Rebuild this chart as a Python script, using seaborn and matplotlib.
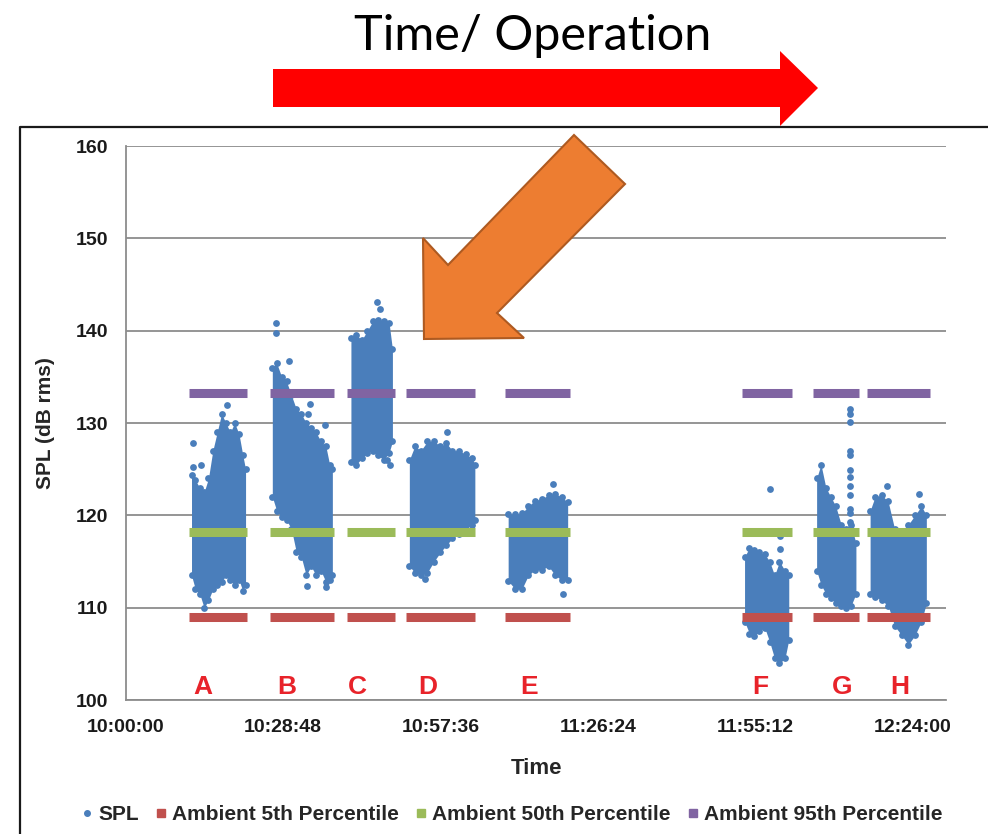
import pandas as pd
import matplotlib.pyplot as plt
import seaborn as sns
from matplotlib.patches import Polygon
from matplotlib.lines import Line2D

# x axis: minutes after 10:00:00
tick_minutes = [0, 28.8, 57.6, 86.4, 115.2, 144.0]
tick_labels = ['10:00:00', '10:28:48', '10:57:36', '11:26:24', '11:55:12', '12:24:00']

# operations and the time span of each ambient reference bar
ops = ['A', 'B', 'C', 'D', 'E', 'F', 'G', 'H']
op_start = [11.6, 26.3, 40.5, 51.2, 69.4, 112.9, 125.9, 135.8]
op_end = [22.2, 38.1, 49.3, 64.0, 81.3, 122.0, 134.3, 147.3]
label_minute = [14.1, 29.5, 42.3, 55.2, 73.8, 116.2, 131.1, 141.8]

ambient_5 = 109.0
ambient_50 = 118.2
ambient_95 = 133.2

# SPL point clouds, read as bottom / top of the cloud at sample times
A_min = [12.0, 12.7, 13.5, 14.3, 15.1, 15.9, 16.7, 17.5, 18.3, 19.1, 19.9, 20.7, 21.4, 21.9]
A_low = [113.5, 112.0, 111.5, 110.0, 110.8, 112.0, 112.5, 112.8, 113.5, 113.0, 112.5, 113.0, 111.8, 112.5]
A_high = [124.4, 123.8, 123.0, 122.5, 124.0, 127.0, 129.0, 131.0, 130.0, 129.0, 130.0, 128.8, 126.5, 125.0]

B_min = [26.8, 27.6, 28.5, 29.4, 30.3, 31.2, 32.1, 33.0, 33.9, 34.8, 35.7, 36.6, 37.3, 37.8]
B_low = [122.0, 120.5, 119.8, 119.5, 118.5, 116.0, 115.5, 113.5, 114.5, 113.5, 114.0, 112.8, 113.0, 113.5]
B_high = [136.0, 136.5, 135.0, 134.5, 133.0, 131.5, 131.0, 130.0, 129.5, 129.0, 128.0, 127.5, 125.5, 125.0]

C_min = [41.2, 42.2, 43.2, 44.2, 45.2, 46.2, 47.2, 48.2, 48.8]
C_low = [125.8, 125.5, 126.2, 126.8, 127.0, 126.5, 126.0, 126.8, 128.0]
C_high = [139.2, 139.5, 139.0, 140.0, 141.0, 141.2, 141.0, 140.8, 138.0]

D_min = [51.9, 52.9, 54.0, 55.2, 56.4, 57.6, 58.7, 59.8, 61.0, 62.2, 63.4, 63.9]
D_low = [114.5, 113.8, 113.5, 113.8, 115.0, 116.0, 116.8, 117.5, 118.0, 118.5, 119.0, 119.5]
D_high = [126.0, 127.5, 127.0, 128.0, 128.0, 127.5, 127.8, 127.0, 127.0, 126.6, 126.2, 125.5]

E_min = [70.0, 71.3, 72.5, 73.7, 74.9, 76.2, 77.4, 78.6, 79.8, 80.9]
E_low = [112.9, 112.0, 112.0, 113.5, 114.1, 114.1, 114.5, 113.5, 113.0, 113.0]
E_high = [120.1, 120.1, 120.2, 121.0, 121.6, 121.8, 122.2, 122.3, 122.0, 121.4]

F_min = [113.3, 114.2, 115.1, 116.0, 117.0, 117.9, 118.8, 119.7, 120.7, 121.4]
F_low = [108.5, 107.2, 106.9, 107.5, 107.8, 106.3, 104.5, 104.0, 104.5, 106.5]
F_high = [115.5, 116.5, 116.2, 116.0, 115.8, 115.0, 113.5, 115.0, 114.0, 113.5]

G_min = [126.5, 127.3, 128.2, 129.1, 130.0, 131.0, 131.9, 132.8, 133.7]
G_low = [114.0, 112.5, 111.5, 111.0, 110.5, 110.2, 110.0, 110.2, 111.5]
G_high = [124.0, 125.5, 123.0, 122.0, 121.0, 119.0, 118.5, 119.0, 117.0]

H_min = [136.3, 137.2, 138.4, 139.6, 140.8, 142.1, 143.3, 144.5, 145.7, 146.6]
H_low = [111.5, 111.2, 110.8, 110.2, 108.0, 107.0, 106.0, 107.0, 108.5, 110.5]
H_high = [120.5, 122.0, 122.2, 121.5, 118.5, 118.0, 119.0, 120.0, 121.0, 120.0]

# single SPL readings standing apart from the clouds
out_min = [12.3, 12.3, 13.8, 18.5, 27.5, 27.5, 29.8, 33.7, 33.4, 36.5, 33.1, 36.7,
           45.9, 46.5, 47.8, 48.4, 58.8, 54.8, 78.3, 80.1, 118.0, 119.8, 119.8,
           132.6, 132.6, 132.6, 132.6, 132.6, 132.6, 132.6, 132.6, 132.6, 132.6, 132.6, 132.6,
           139.4, 145.2]
out_spl = [127.8, 125.2, 125.5, 131.9, 140.8, 139.8, 136.7, 132.1, 131.0, 129.8, 112.4, 112.2,
           143.1, 142.4, 126.0, 125.5, 129.0, 113.1, 123.4, 111.5, 122.8, 117.8, 116.4,
           131.5, 131.0, 130.1, 127.0, 126.5, 124.9, 124.1, 123.2, 122.2, 120.7, 120.2, 119.3,
           123.2, 122.3]

clouds = [(A_min, A_low, A_high), (B_min, B_low, B_high), (C_min, C_low, C_high),
          (D_min, D_low, D_high), (E_min, E_low, E_high), (F_min, F_low, F_high),
          (G_min, G_low, G_high), (H_min, H_low, H_high)]

blue = '#4a7ebb'
red = '#c0504d'
green = '#9bbb59'
purple = '#8064a2'
grid_gray = '#8c8c8c'

W, H = 988, 834

def px(x, y):
    return (x / W, 1 - y / H)

sns.set_style("white")
plt.rcParams['font.family'] = ['Liberation Sans', 'DejaVu Sans']

fig = plt.figure(figsize=(W / 100, H / 100), dpi=100)
ax = fig.add_axes([126 / W, 1 - 700 / H, 820 / W, 554 / H])

# SPL clouds: dense core as area, edges and stray readings as dots
rows = []
for t, lo, hi in clouds:
    ax.fill_between(t, lo, hi, color=blue, lw=0, zorder=2)
    rows += [(m, v) for m, v in zip(t, lo)]
    rows += [(m, v) for m, v in zip(t, hi)]
rows += list(zip(out_min, out_spl))
spl = pd.DataFrame(rows, columns=['minute', 'spl'])
sns.scatterplot(data=spl, x='minute', y='spl', color=blue, s=24, linewidth=0,
                ax=ax, legend=False, zorder=3)

# ambient percentile bars
for level, col in [(ambient_5, red), (ambient_50, green), (ambient_95, purple)]:
    ax.hlines([level] * len(ops), op_start, op_end, colors=col, lw=6.5,
              capstyle='butt', zorder=4)

for op, m in zip(ops, label_minute):
    ax.text(m, 101.4, op, color='#e8232a', fontsize=19, fontweight='bold',
            ha='center', va='center')

ax.set_xlim(0, 150.2)
ax.set_ylim(100, 160)
ax.set_xticks(tick_minutes, tick_labels)
ax.set_yticks(range(100, 161, 10))
for lab in ax.get_xticklabels() + ax.get_yticklabels():
    lab.set_fontweight('bold')
    lab.set_fontsize(14)
    lab.set_color('#1a1a1a')
ax.tick_params(axis='x', length=5, width=1.2, color=grid_gray, pad=9)
ax.tick_params(axis='y', length=6, width=1.2, color=grid_gray, pad=7)
ax.yaxis.grid(True, color=grid_gray, lw=1.3)
ax.set_axisbelow(True)
for side in ['top', 'right']:
    ax.spines[side].set_visible(False)
for side in ['left', 'bottom']:
    ax.spines[side].set_color(grid_gray)
    ax.spines[side].set_linewidth(1.3)

ax.set_xlabel('Time', fontsize=16, fontweight='bold', va='center')
ax.xaxis.set_label_coords(0.5, -(768 - 700) / 554)
ax.set_ylabel('SPL (dB rms)', fontsize=15, fontweight='bold', va='center')
ax.yaxis.set_label_coords(-(126 - 45) / 820, 0.5)

handles = [
    Line2D([], [], ls='', marker='o', markersize=4, color=blue, label='SPL'),
    Line2D([], [], ls='', marker='s', markersize=6, color=red, label='Ambient 5th Percentile'),
    Line2D([], [], ls='', marker='s', markersize=6, color=green, label='Ambient 50th Percentile'),
    Line2D([], [], ls='', marker='s', markersize=6, color=purple, label='Ambient 95th Percentile'),
]
fig.legend(handles=handles, loc='center', bbox_to_anchor=px(512, 815), ncol=4,
           frameon=False, handlelength=0.5, handletextpad=0.3, columnspacing=0.8,
           prop={'weight': 'bold', 'size': 15})

# frame around the chart
fig.add_artist(Line2D([20 / W, 20 / W, 1], [0, 1 - 127 / H, 1 - 127 / H],
                      color='#1a1a1a', lw=1.6, transform=fig.transFigure))

# title and arrows
fig.text(*px(533, 36), 'Time/ Operation', fontsize=35, family='Lato', color='black',
         ha='center', va='center')
red_arrow = [(273, 69), (780, 69), (780, 51), (818, 88), (780, 126), (780, 107), (273, 107)]
fig.add_artist(Polygon([px(*p) for p in red_arrow], closed=True, facecolor='#ff0000',
                       edgecolor='none', transform=fig.transFigure, zorder=5))
orange_arrow = [(574, 135), (625, 184), (497, 313), (524, 338), (424, 339), (423, 238), (448, 265)]
fig.add_artist(Polygon([px(*p) for p in orange_arrow], closed=True, facecolor='#ed7d31',
                       edgecolor='#ae5a21', lw=1.5, transform=fig.transFigure, zorder=5))

fig.savefig('out.png', dpi=100)
